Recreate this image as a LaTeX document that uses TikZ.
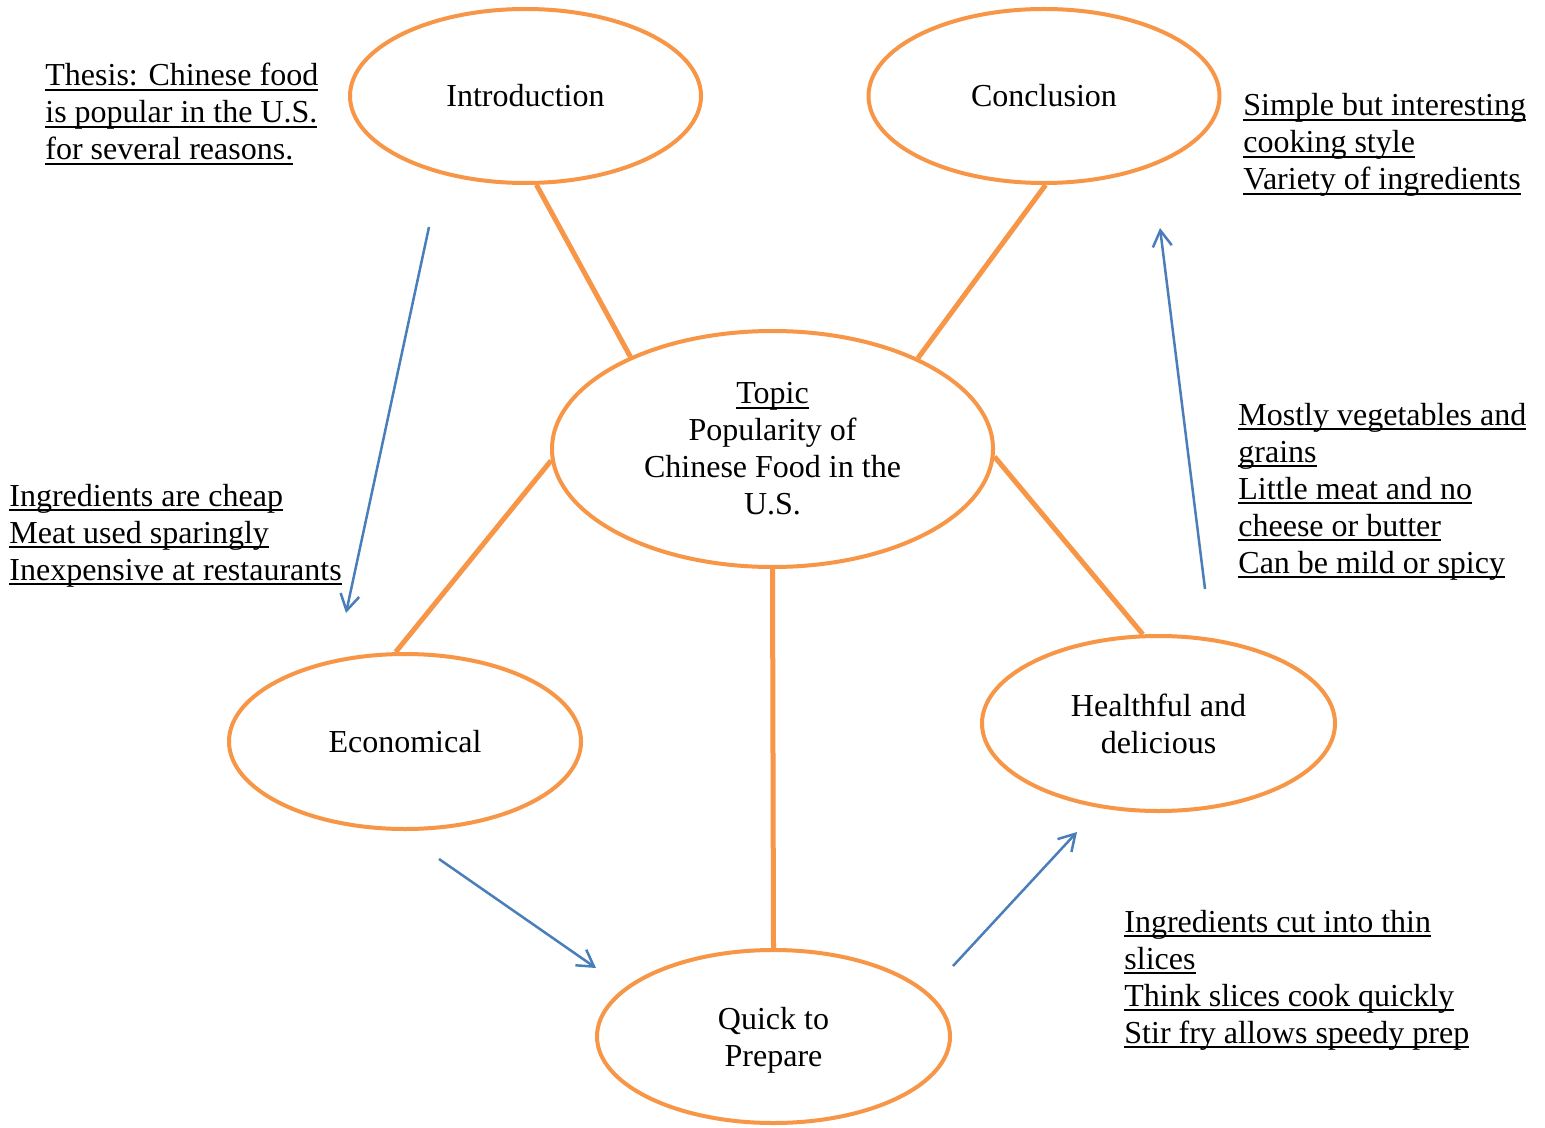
\documentclass[tikz,border=0pt]{standalone}
\usepackage{fontspec}
\setmainfont{Liberation Serif}
\usetikzlibrary{shapes.geometric,arrows.meta}
\definecolor{ored}{HTML}{F79646}
\definecolor{ablue}{HTML}{4A7EBB}
\newsavebox\ulbox
\newcommand\ulin[1]{\sbox\ulbox{#1}\rlap{\rule[-2.4pt]{\wd\ulbox}{1pt}}\usebox\ulbox}
\begin{document}
\begin{tikzpicture}[x=0.5pt,y=-0.5pt,
  font=\fontsize{16}{18.5}\selectfont,
  bubble/.style={ellipse,draw=ored,fill=white,line width=2pt,minimum width=175.5pt,minimum height=87pt,inner sep=0pt,align=center},
  spoke/.style={draw=ored,line width=2.5pt},
  flow/.style={draw=ablue,line width=1.25pt,-{Straight Barb[length=8pt,width=9.5pt]}},
  note/.style={anchor=base west,align=left,inner sep=0pt}]
\useasboundingbox (0,0) rectangle (1545,1128);
\fill[white] (0,0) rectangle (1545,1128);

% bubbles
\node[bubble] (intro) at (525.5,96) {Introduction};
\node[bubble] (concl) at (1044,96) {Conclusion};
\node[bubble,minimum width=220.5pt,minimum height=118pt,yshift=-1pt] (topic) at (772.5,447) {\ulin{Topic}\\Popularity of\\Chinese Food in the\\U.S.};
\node[bubble,minimum width=176pt,minimum height=87.5pt] (econ) at (405,741.5) {Economical};
\node[bubble,minimum width=176.5pt,minimum height=87.5pt] (health) at (1158.5,723.5) {Healthful and\\delicious};
\node[bubble,minimum width=176.5pt,minimum height=86.5pt,text depth=0pt] (quick) at (773.5,1036.5) {Quick to\\Prepare};

% spokes
\draw[spoke] (intro.-83) -- (topic.147.6);
\draw[spoke] (concl.-89.5) -- (topic.32.6);
\draw[spoke] (topic.183) -- (econ.96.7);
\draw[spoke] (topic.-2.6) -- (health.100.4);
\draw[spoke] (topic.south) -- (quick.north);

% notes (anchor = baseline of last line)
\node[note] (thesis) at (45,160) {\ulin{Thesis: Chinese food}\\\ulin{is popular in the U.S.}\\\ulin{for several reasons.}};
\node[note] (cnote) at (1243,190) {\ulin{Simple but interesting}\\\ulin{cooking style}\\\ulin{Variety of ingredients}};
\node[note] (enote) at (9,580) {\ulin{Ingredients are cheap}\\\ulin{Meat used sparingly}\\\ulin{Inexpensive at restaurants}};
\node[note] (hnote) at (1238,573) {\ulin{Mostly vegetables and}\\\ulin{grains}\\\ulin{Little meat and no}\\\ulin{cheese or butter}\\\ulin{Can be mild or spicy}};
\node[note] (qnote) at (1124,1043) {\ulin{Ingredients cut into thin}\\\ulin{slices}\\\ulin{Think slices cook quickly}\\\ulin{Stir fry allows speedy prep}};

% flow arrows
\coordinate (f1a) at (429,227); \coordinate (f1b) at (346,613);
\coordinate (f2a) at (439,859); \coordinate (f2b) at (596,968);
\coordinate (f3a) at (953,966); \coordinate (f3b) at (1077,832);
\coordinate (f4a) at (1205,589); \coordinate (f4b) at (1160,228);
\draw[flow] (f1a) -- (f1b);
\draw[flow] (f2a) -- (f2b);
\draw[flow] (f3a) -- (f3b);
\draw[flow] (f4a) -- (f4b);
\end{tikzpicture}
\end{document}
